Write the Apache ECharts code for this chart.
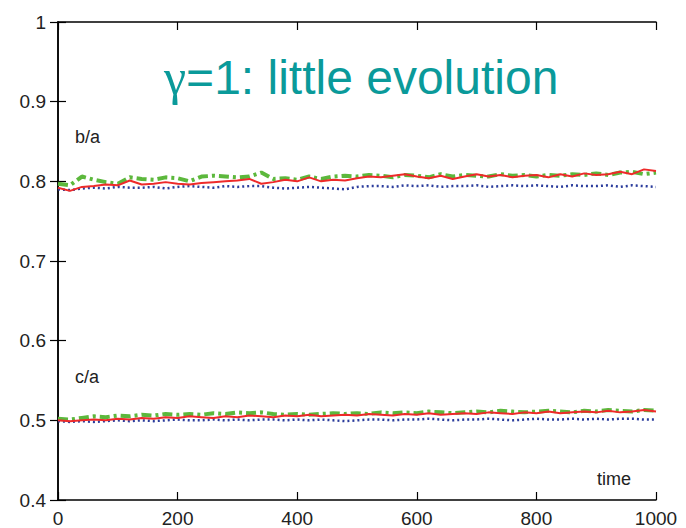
<!DOCTYPE html>
<html><head><meta charset="utf-8">
<script src="https://cdn.jsdelivr.net/npm/echarts@6/dist/echarts.min.js"></script>
<style>html,body{margin:0;padding:0;background:#fff}#c{width:686px;height:528px}</style>
</head><body><div id="c"></div>
<script>
const times = [0,20,40,60,80,100,120,140,160,180,200,220,240,260,280,300,320,340,360,380,400,420,440,460,480,500,520,540,560,580,600,620,640,660,680,700,720,740,760,780,800,820,840,860,880,900,920,940,960,980,1000];
const baRed = [0.792,0.788,0.793,0.794,0.796,0.795,0.801,0.796,0.797,0.799,0.797,0.796,0.798,0.799,0.800,0.801,0.803,0.797,0.799,0.802,0.800,0.805,0.800,0.802,0.801,0.804,0.806,0.805,0.807,0.809,0.806,0.804,0.807,0.803,0.806,0.809,0.806,0.808,0.805,0.807,0.808,0.805,0.809,0.806,0.810,0.808,0.809,0.812,0.809,0.815,0.813];
const baGreen = [0.797,0.795,0.806,0.802,0.799,0.797,0.805,0.803,0.802,0.805,0.804,0.800,0.806,0.807,0.806,0.805,0.806,0.811,0.803,0.804,0.802,0.806,0.803,0.806,0.807,0.806,0.808,0.807,0.805,0.808,0.807,0.805,0.809,0.806,0.808,0.807,0.806,0.809,0.807,0.808,0.806,0.808,0.807,0.809,0.808,0.810,0.808,0.811,0.812,0.809,0.811];
const baBlue = [0.790,0.789,0.791,0.792,0.791,0.793,0.792,0.792,0.793,0.791,0.793,0.794,0.793,0.792,0.794,0.793,0.794,0.794,0.792,0.791,0.792,0.793,0.792,0.791,0.790,0.793,0.794,0.794,0.793,0.795,0.794,0.795,0.793,0.794,0.794,0.795,0.793,0.794,0.795,0.794,0.795,0.794,0.793,0.795,0.794,0.794,0.795,0.793,0.795,0.794,0.793];
const caRed = [0.500,0.499,0.500,0.501,0.500,0.502,0.501,0.503,0.502,0.504,0.503,0.505,0.504,0.503,0.505,0.504,0.506,0.505,0.504,0.506,0.505,0.507,0.505,0.506,0.507,0.506,0.508,0.507,0.506,0.508,0.507,0.509,0.507,0.508,0.509,0.508,0.510,0.509,0.508,0.510,0.509,0.511,0.509,0.510,0.511,0.510,0.512,0.510,0.511,0.513,0.511];
const caGreen = [0.502,0.501,0.503,0.505,0.504,0.506,0.505,0.507,0.506,0.508,0.507,0.508,0.507,0.509,0.508,0.510,0.509,0.510,0.508,0.507,0.508,0.507,0.508,0.509,0.508,0.509,0.508,0.510,0.509,0.510,0.509,0.511,0.510,0.509,0.510,0.511,0.510,0.512,0.511,0.510,0.511,0.512,0.511,0.510,0.512,0.511,0.513,0.512,0.511,0.513,0.512];
const caBlue = [0.499,0.498,0.499,0.498,0.499,0.500,0.499,0.500,0.499,0.500,0.501,0.500,0.500,0.501,0.500,0.501,0.500,0.501,0.501,0.500,0.501,0.500,0.501,0.500,0.499,0.500,0.501,0.501,0.500,0.501,0.501,0.502,0.501,0.500,0.501,0.501,0.502,0.501,0.500,0.501,0.502,0.501,0.501,0.502,0.501,0.502,0.501,0.502,0.502,0.501,0.501];
const xTicks = [0,200,400,600,800,1000];
const yTicks = [0.4,0.5,0.6,0.7,0.8,0.9,1];
const titleGamma = 'γ';
const titleRest = '=1: little evolution';
const seriesLabels = ['b/a','c/a'];
const xLabel = 'time';

const RED='#ee2a2a', GREEN='#5cb83c', BLUE='#2b3c9c';
function pairs(v){return times.map((t,i)=>[t,v[i]]);}
function redS(v){return {type:'line',data:pairs(v),symbol:'none',z:4,lineStyle:{color:RED,width:2}};}
function greenS(v){return {type:'line',data:pairs(v),symbol:'none',z:3,lineStyle:{color:GREEN,width:4,type:[10,4,3,4]}};}
function blueS(v){return {type:'line',data:pairs(v),symbol:'none',z:2,lineStyle:{color:BLUE,width:2.5,type:[2,3]}};}

const chart = echarts.init(document.getElementById('c'),null,{renderer:'svg'});
const lbl = {color:'#222',fontSize:19,fontFamily:'Liberation Sans, Arial, sans-serif'};
const axLine = {show:true,lineStyle:{color:'#000',width:1.5}};
const tick = {inside:true,length:8,lineStyle:{color:'#000',width:1.2}};
chart.setOption({
  animation:false,
  backgroundColor:'#fff',
  grid:{left:58,right:30,top:22,bottom:28},
  xAxis:[
    {type:'value',min:0,max:1000,interval:200,position:'bottom',axisLine:axLine,axisTick:tick,axisLabel:Object.assign({margin:9,formatter:v=>String(v)},lbl),splitLine:{show:false}},
    {type:'value',min:0,max:1000,interval:200,position:'top',axisLine:axLine,axisTick:tick,axisLabel:{show:false},splitLine:{show:false}}
  ],
  yAxis:[
    {type:'value',min:0.4,max:1,interval:0.1,position:'left',axisLine:axLine,axisTick:tick,axisLabel:Object.assign({margin:12,formatter:v=>String(Math.round(v*10)/10)},lbl),splitLine:{show:false}},
    {type:'value',min:0.4,max:1,interval:0.1,position:'right',axisLine:axLine,axisTick:tick,axisLabel:{show:false},splitLine:{show:false}}
  ],
  graphic:[
    {type:'text',left:164,top:52,style:{rich:{g:{fontFamily:'"Liberation Serif", serif',fontSize:50,fill:'#0a9a9a'},t:{fontFamily:'"Liberation Sans", Arial, sans-serif',fontSize:48,fill:'#0a9a9a'}},text:'{g|'+titleGamma+'}{t|'+titleRest+'}'}},
    {type:'text',left:75,top:128,style:{text:seriesLabels[0],fill:'#222',font:'18px "Liberation Sans", Arial, sans-serif'}},
    {type:'text',left:75,top:368,style:{text:seriesLabels[1],fill:'#222',font:'18px "Liberation Sans", Arial, sans-serif'}},
    {type:'text',left:597,top:470,style:{text:xLabel,fill:'#222',font:'18px "Liberation Sans", Arial, sans-serif'}}
  ],
  series:[blueS(baBlue),greenS(baGreen),redS(baRed),blueS(caBlue),greenS(caGreen),redS(caRed)]
});
</script></body></html>
